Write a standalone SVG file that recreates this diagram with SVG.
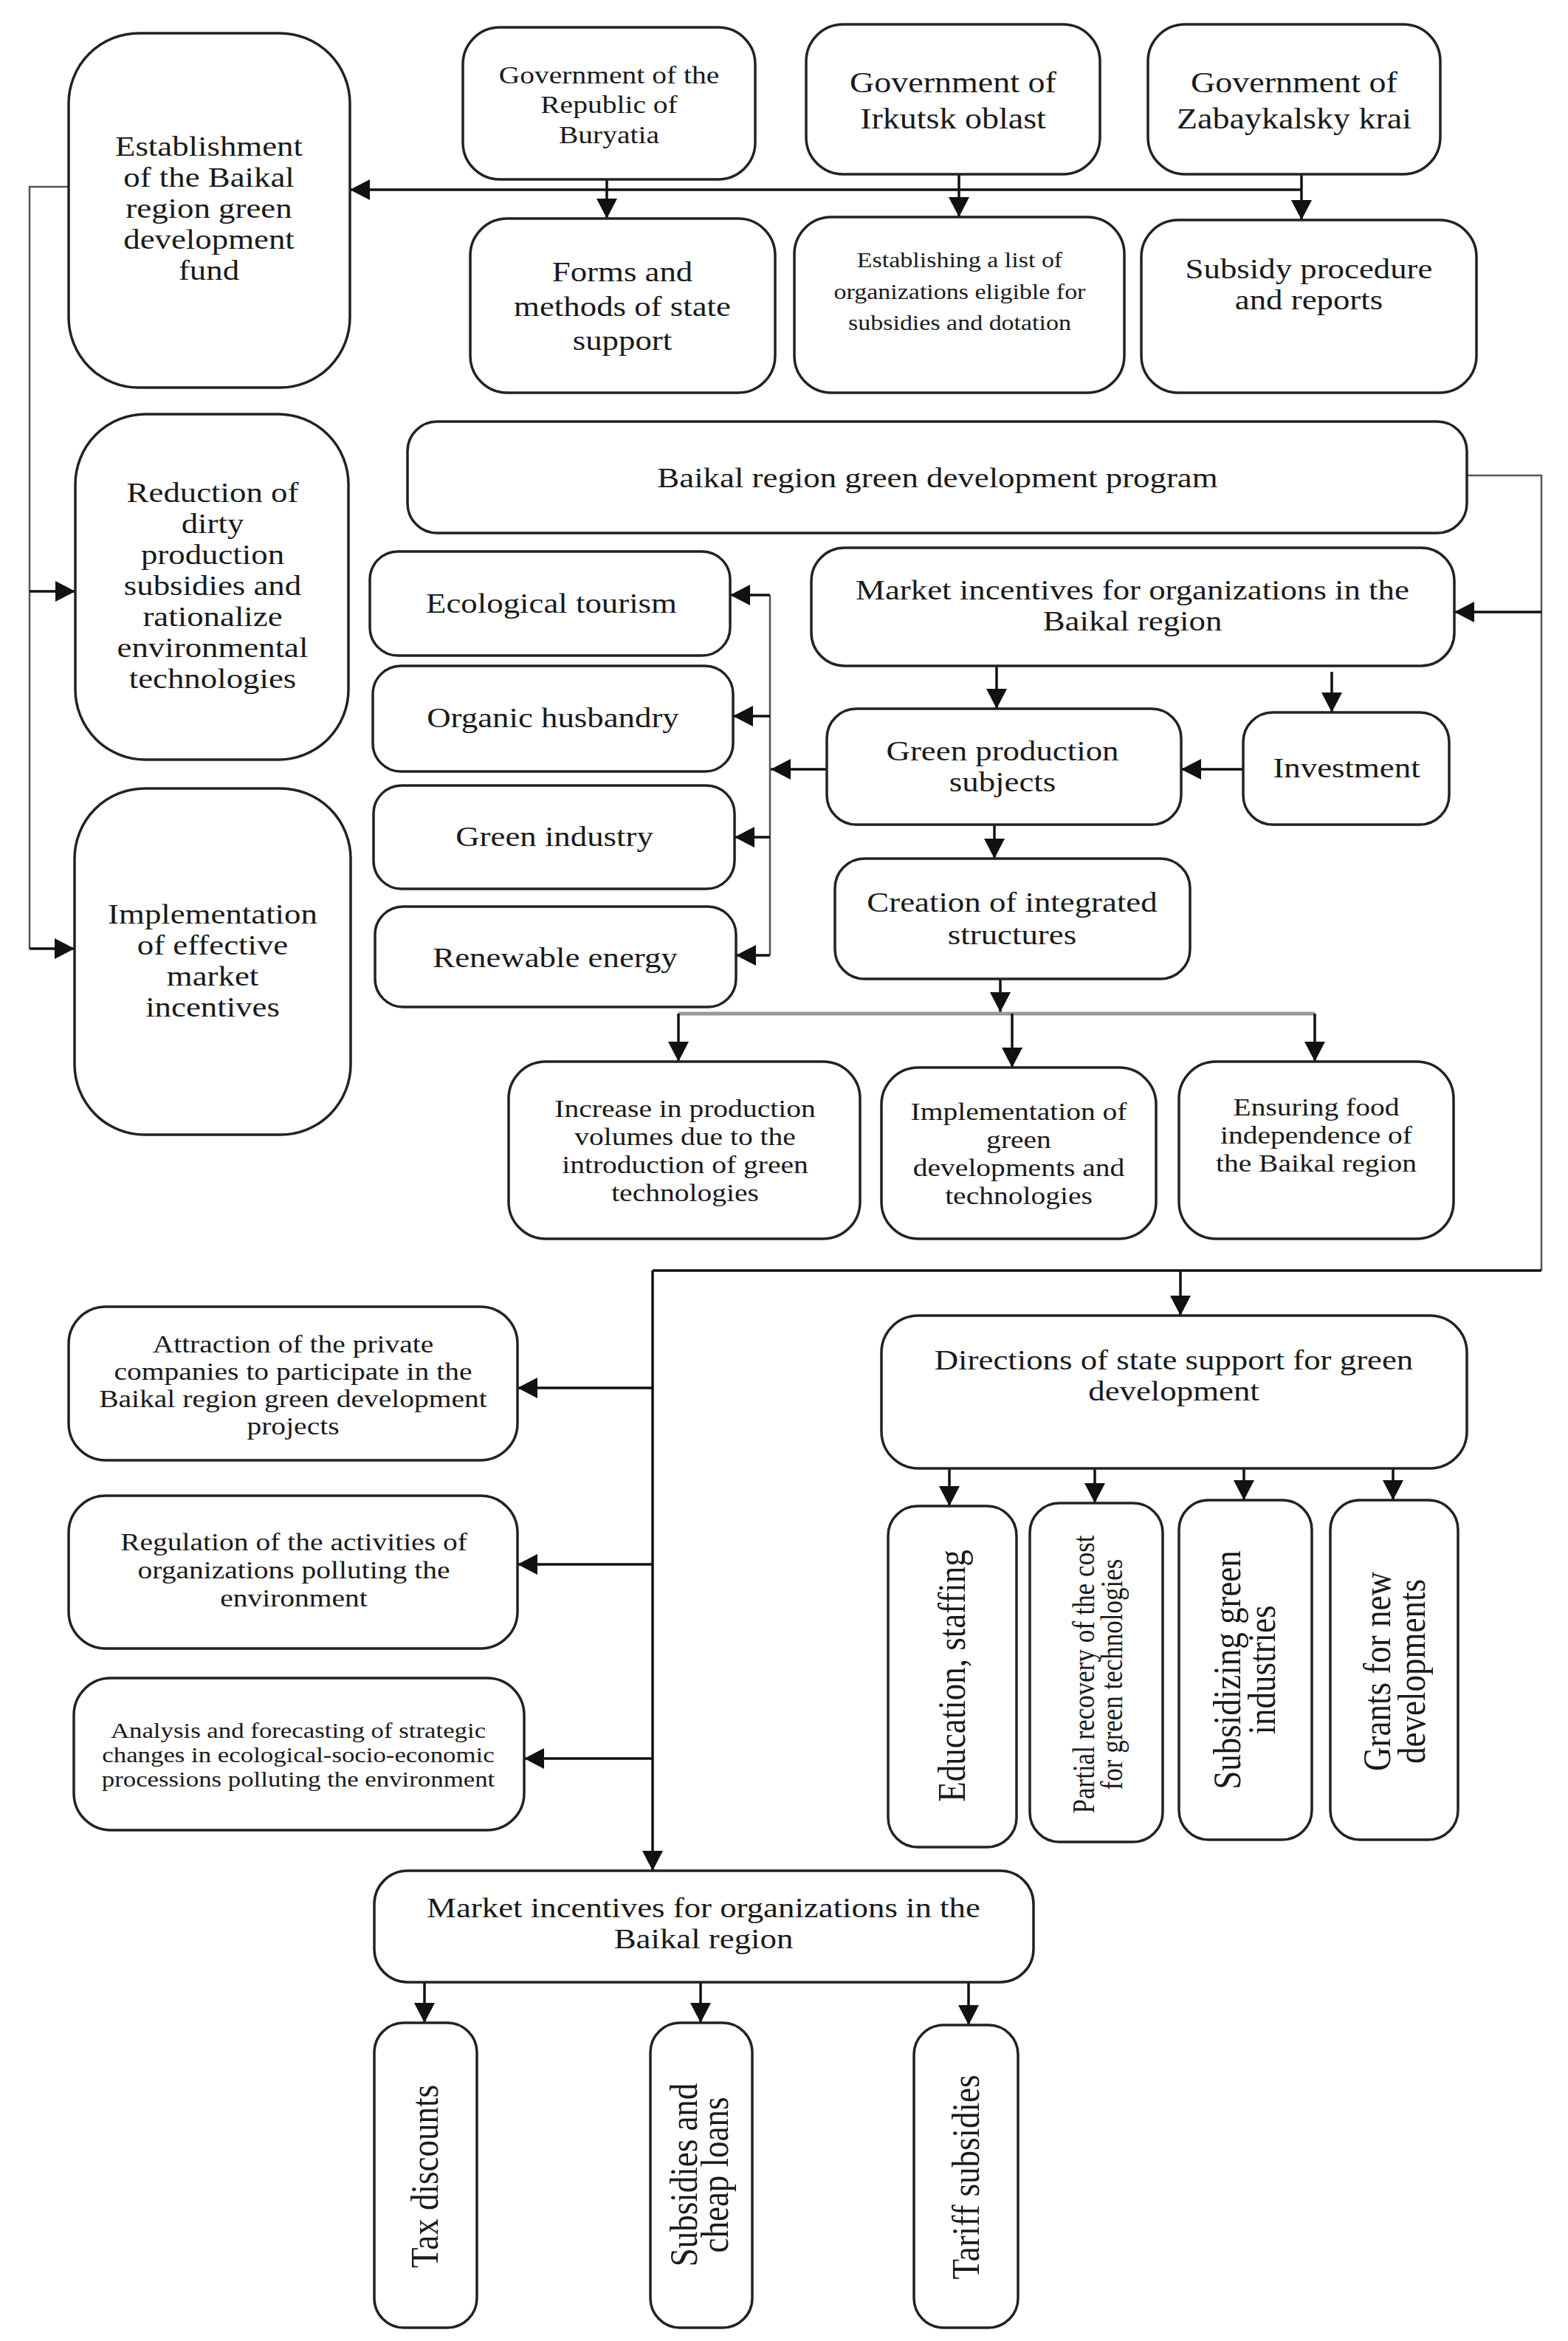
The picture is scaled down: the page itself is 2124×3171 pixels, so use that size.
<svg xmlns="http://www.w3.org/2000/svg" width="2124" height="3171" viewBox="0 0 2124 3171">
<style>
.b{fill:#fff;stroke:#222;stroke-width:3.5}
.t{font-family:"Liberation Serif","Times New Roman",serif;font-size:38px;fill:#1a1a1a;text-anchor:middle}
.s34{font-size:33.5px}
.s30{font-size:29.5px}
.s29{font-size:28.8px}
.s39{font-size:39px}
.r{font-size:45px}
.r35{font-size:35px}
.c{fill:none;stroke:#111;stroke-width:3.5}
.g{fill:none;stroke:#555;stroke-width:2.5}
.gl{fill:none;stroke:#999;stroke-width:5}
</style>
<defs>
<marker id="a" markerUnits="userSpaceOnUse" markerWidth="28" markerHeight="28" refX="27" refY="14" orient="auto">
<path d="M0,0 L27,14 L0,28 z" fill="#111"/>
</marker>
</defs>
<rect width="2124" height="3171" fill="#fff"/>

<g id="connectors">
<path class="g" d="M93,253 H40 V1285"/>
<path class="c" d="M40,801 H102" marker-end="url(#a)"/>
<path class="c" d="M40,1285 H101" marker-end="url(#a)"/>
<path class="c" d="M1763,257 H474" marker-end="url(#a)"/>
<path class="c" d="M822,243 V296" marker-end="url(#a)"/>
<path class="c" d="M1299,236 V294" marker-end="url(#a)"/>
<path class="c" d="M1763,236 V298" marker-end="url(#a)"/>
<path class="g" d="M1987,644 H2088 V1721"/>
<path class="c" d="M2088,1721 H884"/>
<path class="c" d="M884,1721 V2534" marker-end="url(#a)"/>
<path class="c" d="M2088,829 H1970" marker-end="url(#a)"/>
<path class="c" d="M1599,1721 V1782" marker-end="url(#a)"/>
<path class="c" d="M884,1880 H701" marker-end="url(#a)"/>
<path class="c" d="M884,2119 H701" marker-end="url(#a)"/>
<path class="c" d="M884,2382 H710" marker-end="url(#a)"/>
<path class="c" d="M1350,902 V960" marker-end="url(#a)"/>
<path class="c" d="M1804,910 V965" marker-end="url(#a)"/>
<path class="c" d="M1684,1042 H1600" marker-end="url(#a)"/>
<path class="c" d="M1120,1042 H1044" marker-end="url(#a)"/>
<path class="g" d="M1043,806 V1294"/>
<path class="c" d="M1043,806 H989" marker-end="url(#a)"/>
<path class="c" d="M1043,970 H993" marker-end="url(#a)"/>
<path class="c" d="M1043,1134 H995" marker-end="url(#a)"/>
<path class="c" d="M1043,1294 H997" marker-end="url(#a)"/>
<path class="c" d="M1347,1117 V1163" marker-end="url(#a)"/>
<path class="c" d="M1355,1326 V1371" marker-end="url(#a)"/>
<path class="gl" d="M919,1373 H1781"/>
<path class="c" d="M919,1373 V1438" marker-end="url(#a)"/>
<path class="c" d="M1371,1373 V1446" marker-end="url(#a)"/>
<path class="c" d="M1781,1373 V1438" marker-end="url(#a)"/>
<path class="c" d="M1286,1989 V2040" marker-end="url(#a)"/>
<path class="c" d="M1483,1989 V2036" marker-end="url(#a)"/>
<path class="c" d="M1685,1989 V2032" marker-end="url(#a)"/>
<path class="c" d="M1887,1989 V2032" marker-end="url(#a)"/>
<path class="c" d="M575,2685 V2740" marker-end="url(#a)"/>
<path class="c" d="M949,2685 V2740" marker-end="url(#a)"/>
<path class="c" d="M1312,2685 V2743" marker-end="url(#a)"/>
</g>

<g id="n-establishment">
<rect class="b" x="93" y="45" width="381" height="480" rx="95"/>
<text class="t" transform="translate(283,0) scale(1.18,1)"><tspan x="0" y="211">Establishment</tspan><tspan x="0" y="253">of the Baikal</tspan><tspan x="0" y="295">region green</tspan><tspan x="0" y="337">development</tspan><tspan x="0" y="379">fund</tspan></text>
</g>
<g id="n-gov-buryatia">
<rect class="b" x="627" y="37" width="396" height="206" rx="50"/>
<text class="t s34" transform="translate(825,0) scale(1.18,1)"><tspan x="0" y="113">Government of the</tspan><tspan x="0" y="153">Republic of</tspan><tspan x="0" y="194">Buryatia</tspan></text>
</g>
<g id="n-gov-irkutsk">
<rect class="b" x="1092" y="33" width="398" height="203" rx="50"/>
<text class="t s39" transform="translate(1291,0) scale(1.18,1)"><tspan x="0" y="125">Government of</tspan><tspan x="0" y="174">Irkutsk oblast</tspan></text>
</g>
<g id="n-gov-zabaykalsky">
<rect class="b" x="1555" y="33" width="396" height="203" rx="50"/>
<text class="t s39" transform="translate(1753,0) scale(1.18,1)"><tspan x="0" y="125">Government of</tspan><tspan x="0" y="174">Zabaykalsky krai</tspan></text>
</g>
<g id="n-forms">
<rect class="b" x="637" y="296" width="413" height="236" rx="50"/>
<text class="t" transform="translate(843,0) scale(1.18,1)"><tspan x="0" y="381">Forms and</tspan><tspan x="0" y="428">methods of state</tspan><tspan x="0" y="474">support</tspan></text>
</g>
<g id="n-list">
<rect class="b" x="1076" y="294" width="447" height="238" rx="50"/>
<text class="t s29" transform="translate(1300,0) scale(1.18,1)"><tspan x="0" y="362">Establishing a list of</tspan><tspan x="0" y="405">organizations eligible for</tspan><tspan x="0" y="447">subsidies and dotation</tspan></text>
</g>
<g id="n-subsidy-procedure">
<rect class="b" x="1546" y="298" width="454" height="234" rx="50"/>
<text class="t" transform="translate(1773,0) scale(1.18,1)"><tspan x="0" y="377">Subsidy procedure</tspan><tspan x="0" y="419">and reports</tspan></text>
</g>
<g id="n-reduction">
<rect class="b" x="102" y="561" width="370" height="468" rx="95"/>
<text class="t" transform="translate(288,0) scale(1.18,1)"><tspan x="0" y="680">Reduction of</tspan><tspan x="0" y="722">dirty</tspan><tspan x="0" y="764">production</tspan><tspan x="0" y="806">subsidies and</tspan><tspan x="0" y="848">rationalize</tspan><tspan x="0" y="890">environmental</tspan><tspan x="0" y="932">technologies</tspan></text>
</g>
<g id="n-implementation">
<rect class="b" x="101" y="1068" width="374" height="469" rx="95"/>
<text class="t" transform="translate(288,0) scale(1.18,1)"><tspan x="0" y="1251">Implementation</tspan><tspan x="0" y="1293">of effective</tspan><tspan x="0" y="1335">market</tspan><tspan x="0" y="1377">incentives</tspan></text>
</g>
<g id="n-program">
<rect class="b" x="552" y="571" width="1435" height="151" rx="40"/>
<text class="t" transform="translate(1270,0) scale(1.18,1)" x="0" y="660">Baikal region green development program</text>
</g>
<g id="n-market1">
<rect class="b" x="1099" y="742" width="871" height="160" rx="45"/>
<text class="t" transform="translate(1534,0) scale(1.18,1)"><tspan x="0" y="812">Market incentives for organizations in the</tspan><tspan x="0" y="854">Baikal region</tspan></text>
</g>
<g id="n-eco">
<rect class="b" x="501" y="747" width="488" height="141" rx="38"/>
<text class="t" transform="translate(747,0) scale(1.18,1)" x="0" y="830">Ecological tourism</text>
</g>
<g id="n-organic">
<rect class="b" x="505" y="902" width="488" height="143" rx="38"/>
<text class="t" transform="translate(749,0) scale(1.18,1)" x="0" y="985">Organic husbandry</text>
</g>
<g id="n-greenind">
<rect class="b" x="506" y="1064" width="489" height="140" rx="38"/>
<text class="t" transform="translate(751,0) scale(1.18,1)" x="0" y="1146">Green industry</text>
</g>
<g id="n-renew">
<rect class="b" x="508" y="1228" width="489" height="136" rx="38"/>
<text class="t" transform="translate(752,0) scale(1.18,1)" x="0" y="1310">Renewable energy</text>
</g>
<g id="n-gps">
<rect class="b" x="1120" y="960" width="480" height="157" rx="40"/>
<text class="t" transform="translate(1358,0) scale(1.18,1)"><tspan x="0" y="1030">Green production</tspan><tspan x="0" y="1072">subjects</tspan></text>
</g>
<g id="n-investment">
<rect class="b" x="1684" y="965" width="279" height="152" rx="40"/>
<text class="t" transform="translate(1824,0) scale(1.18,1)" x="0" y="1053">Investment</text>
</g>
<g id="n-creation">
<rect class="b" x="1131" y="1163" width="481" height="163" rx="40"/>
<text class="t" transform="translate(1371,0) scale(1.18,1)"><tspan x="0" y="1235">Creation of integrated</tspan><tspan x="0" y="1279">structures</tspan></text>
</g>
<g id="n-increase">
<rect class="b" x="689" y="1438" width="476" height="240" rx="50"/>
<text class="t s34" transform="translate(928,0) scale(1.18,1)"><tspan x="0" y="1513">Increase in production</tspan><tspan x="0" y="1551">volumes due to the</tspan><tspan x="0" y="1589">introduction of green</tspan><tspan x="0" y="1627">technologies</tspan></text>
</g>
<g id="n-implgreen">
<rect class="b" x="1194" y="1446" width="372" height="232" rx="50"/>
<text class="t s34" transform="translate(1380,0) scale(1.18,1)"><tspan x="0" y="1517">Implementation of</tspan><tspan x="0" y="1555">green</tspan><tspan x="0" y="1593">developments and</tspan><tspan x="0" y="1631">technologies</tspan></text>
</g>
<g id="n-food">
<rect class="b" x="1597" y="1438" width="372" height="240" rx="50"/>
<text class="t s34" transform="translate(1783,0) scale(1.18,1)"><tspan x="0" y="1511">Ensuring food</tspan><tspan x="0" y="1549">independence of</tspan><tspan x="0" y="1587">the Baikal region</tspan></text>
</g>
<g id="n-attraction">
<rect class="b" x="93" y="1770" width="608" height="208" rx="50"/>
<text class="t s34" transform="translate(397,0) scale(1.18,1)"><tspan x="0" y="1832">Attraction of the private</tspan><tspan x="0" y="1869">companies to participate in the</tspan><tspan x="0" y="1906">Baikal region green development</tspan><tspan x="0" y="1943">projects</tspan></text>
</g>
<g id="n-regulation">
<rect class="b" x="93" y="2026" width="608" height="207" rx="50"/>
<text class="t s34" transform="translate(398,0) scale(1.18,1)"><tspan x="0" y="2100">Regulation of the activities of</tspan><tspan x="0" y="2138">organizations polluting the</tspan><tspan x="0" y="2176">environment</tspan></text>
</g>
<g id="n-analysis">
<rect class="b" x="100" y="2273" width="610" height="206" rx="50"/>
<text class="t s30" transform="translate(404,0) scale(1.18,1)"><tspan x="0" y="2354">Analysis and forecasting of strategic</tspan><tspan x="0" y="2387">changes in ecological-socio-economic</tspan><tspan x="0" y="2420">processions polluting the environment</tspan></text>
</g>
<g id="n-directions">
<rect class="b" x="1194" y="1782" width="793" height="207" rx="50"/>
<text class="t" transform="translate(1590,0) scale(1.18,1)"><tspan x="0" y="1855">Directions of state support for green</tspan><tspan x="0" y="1897">development</tspan></text>
</g>
<g id="n-education">
<rect class="b" x="1203" y="2040" width="174" height="462" rx="40"/>
<text class="t r" transform="translate(1289,2270) rotate(-90) scale(1,1.18)" x="0" y="15">Education, staffing</text>
</g>
<g id="n-partial">
<rect class="b" x="1395" y="2036" width="180" height="459" rx="40"/>
<text class="t r35" transform="translate(1487,2268) rotate(-90) scale(1,1.18)"><tspan x="0" y="-4.5">Partial recovery of the cost</tspan><tspan x="0" y="27.7">for green technologies</tspan></text>
</g>
<g id="n-subsidizing">
<rect class="b" x="1597" y="2032" width="180" height="460" rx="40"/>
<text class="t r" transform="translate(1685,2262) rotate(-90) scale(1,1.18)"><tspan x="0" y="-4.5">Subsidizing green</tspan><tspan x="0" y="35.3">industries</tspan></text>
</g>
<g id="n-grants">
<rect class="b" x="1802" y="2032" width="173" height="460" rx="40"/>
<text class="t r" transform="translate(1888,2264) rotate(-90) scale(1,1.18)"><tspan x="0" y="-4.5">Grants for new</tspan><tspan x="0" y="35.3">developments</tspan></text>
</g>
<g id="n-market2">
<rect class="b" x="507" y="2534" width="893" height="151" rx="45"/>
<text class="t" transform="translate(953,0) scale(1.18,1)"><tspan x="0" y="2597">Market incentives for organizations in the</tspan><tspan x="0" y="2639">Baikal region</tspan></text>
</g>
<g id="n-tax">
<rect class="b" x="507" y="2740" width="139" height="413" rx="40"/>
<text class="t r" transform="translate(575,2948) rotate(-90) scale(1,1.18)" x="0" y="15">Tax discounts</text>
</g>
<g id="n-subloans">
<rect class="b" x="881" y="2740" width="138" height="413" rx="40"/>
<text class="t r" transform="translate(947,2946) rotate(-90) scale(1,1.18)"><tspan x="0" y="-2.8">Subsidies and</tspan><tspan x="0" y="32.8">cheap loans</tspan></text>
</g>
<g id="n-tariff">
<rect class="b" x="1238" y="2743" width="141" height="410" rx="40"/>
<text class="t r" transform="translate(1308,2949) rotate(-90) scale(1,1.18)" x="0" y="15">Tariff subsidies</text>
</g>
</svg>
